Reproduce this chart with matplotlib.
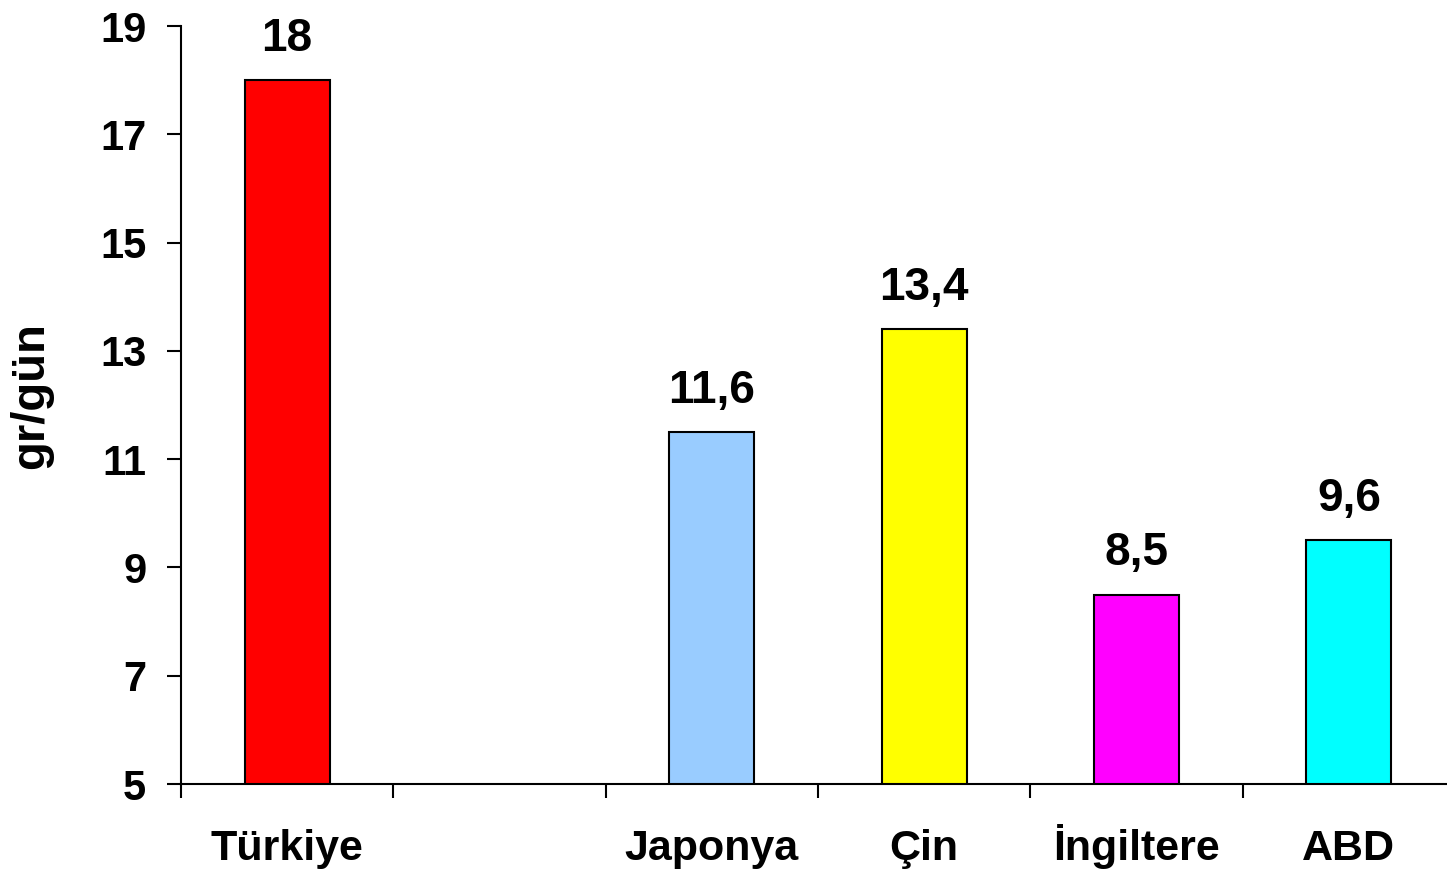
import matplotlib
matplotlib.use("Agg")
import matplotlib.pyplot as plt

categories = ["Türkiye", "", "Japonya", "Çin", "İngiltere", "ABD"]
values = [18.0, None, 11.5, 13.4, 8.5, 9.5]
value_labels = ["18", "", "11,6", "13,4", "8,5", "9,6"]
colors = ["#FF0000", None, "#99CCFF", "#FFFF00", "#FF00FF", "#00FFFF"]
y_ticks = [5, 7, 9, 11, 13, 15, 17, 19]
y_label = "gr/gün"

plt.rcParams['font.family'] = ['Liberation Sans', 'DejaVu Sans']
plt.rcParams['font.weight'] = 'bold'

W, H = 1447, 873
fig = plt.figure(figsize=(W / 100, H / 100), dpi=100)
ax = fig.add_axes([181 / W, 1 - 784 / H, 1274 / W, (784 - 26) / H])

for i, (v, c, lab) in enumerate(zip(values, colors, value_labels)):
    if v is None:
        continue
    ax.bar(i, v - 5, bottom=5, width=0.4, color=c, edgecolor="black", linewidth=1.5, zorder=3)
    ax.annotate(lab, (i, v), xytext=(0, 14), textcoords="offset points",
                ha="center", va="bottom", fontsize=33, fontweight="bold")

ax.set_xlim(-0.5, len(categories) - 0.5)
ax.set_ylim(5, 19)
ax.set_yticks(y_ticks)
ax.set_yticklabels([str(t) for t in y_ticks], fontsize=30, fontweight="bold")

ax.set_xticks([i - 0.5 for i in range(len(categories) + 1)])
ax.set_xticklabels([])
ax.set_xticks(list(range(len(categories))), minor=True)
ax.set_xticklabels(categories, minor=True, fontsize=31, fontweight="bold")
for t in ax.get_xticklabels(minor=True):
    t.set_verticalalignment("baseline")

ax.tick_params(axis="x", which="major", direction="out", length=10, width=1.5)
ax.tick_params(axis="x", which="minor", length=0, pad=55)
ax.tick_params(axis="y", direction="out", length=10, width=1.5, pad=15)

for s in ["top", "right"]:
    ax.spines[s].set_visible(False)
for s in ["left", "bottom"]:
    ax.spines[s].set_linewidth(1.5)
    ax.spines[s].set_color("black")

ax.set_ylabel(y_label, fontsize=34, fontweight="bold")
ax.yaxis.set_label_coords(-128 / 1274, 0.512)

fig.savefig("out.png", dpi=100)
